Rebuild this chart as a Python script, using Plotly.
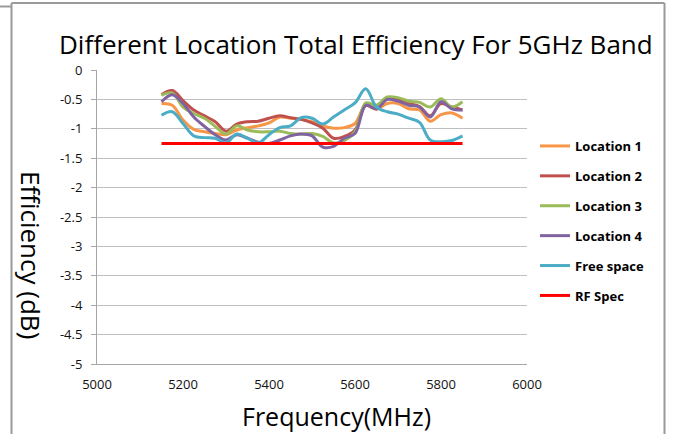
import plotly.graph_objects as go

freq = [5150, 5175, 5200, 5225, 5250, 5275, 5300, 5325, 5350, 5375, 5400, 5425, 5450, 5475,
        5500, 5525, 5550, 5575, 5600, 5625, 5650, 5675, 5700, 5725, 5750, 5775, 5800, 5825, 5850]

loc1 = [-0.57, -0.60, -0.85, -1.01, -1.05, -1.08, -1.10, -1.02, -0.98, -0.95, -0.90, -0.80, -0.82, -0.84,
        -0.88, -0.95, -0.99, -0.98, -0.91, -0.60, -0.67, -0.57, -0.57, -0.66, -0.68, -0.87, -0.76, -0.73, -0.82]
loc2 = [-0.42, -0.35, -0.52, -0.68, -0.78, -0.88, -1.04, -0.92, -0.88, -0.87, -0.82, -0.78, -0.81, -0.84,
        -0.90, -0.99, -1.16, -1.13, -1.02, -0.60, -0.66, -0.49, -0.50, -0.57, -0.62, -0.78, -0.57, -0.63, -0.68]
loc3 = [-0.43, -0.39, -0.63, -0.74, -0.82, -0.96, -1.09, -0.95, -1.02, -1.05, -1.05, -1.04, -1.08, -1.09,
        -1.08, -1.13, -1.24, -1.20, -1.05, -0.56, -0.60, -0.46, -0.47, -0.53, -0.55, -0.63, -0.49, -0.63, -0.54]
loc4 = [-0.54, -0.42, -0.57, -0.80, -0.96, -1.10, -1.19, -1.10, -1.16, -1.23, -1.25, -1.19, -1.12, -1.09,
        -1.12, -1.31, -1.30, -1.16, -1.08, -0.60, -0.66, -0.50, -0.53, -0.60, -0.63, -0.80, -0.54, -0.66, -0.68]
free_space = [-0.77, -0.71, -0.91, -1.12, -1.15, -1.16, -1.24, -1.09, -1.16, -1.24, -1.10, -0.98, -0.95, -0.81,
              -0.82, -0.92, -0.80, -0.68, -0.56, -0.32, -0.63, -0.71, -0.75, -0.82, -0.89, -1.19, -1.22, -1.20, -1.12]
rf_freq = [5150, 5850]
rf_spec = [-1.25, -1.25]

series_names = ["Location 1", "Location 2", "Location 3", "Location 4", "Free space", "RF Spec"]
colors = ["#F79646", "#C0504D", "#9BBB59", "#8064A2", "#4BACC6", "#FF0000"]

x_ticks = [5000, 5200, 5400, 5600, 5800, 6000]
y_ticks = [0, -0.5, -1, -1.5, -2, -2.5, -3, -3.5, -4, -4.5, -5]

W, H = 674, 434
L, R, T, B = 97, 147, 70, 70
PW, PH = W - L - R, H - T - B

def px(x):
    return (x - L) / PW

def py(y):
    return 1 - (y - T) / PH

fig = go.Figure()
data = [(freq, loc1), (freq, loc2), (freq, loc3), (freq, loc4), (freq, free_space), (rf_freq, rf_spec)]
for i, ((xs, ys), name, c) in enumerate(zip(data, series_names, colors)):
    fig.add_trace(go.Scatter(
        x=xs, y=ys, name=name, mode="lines",
        line=dict(color=c, width=3, shape="spline", smoothing=1.0),
        legendgroup=f"g{i}",
    ))

font_family = "Open Sans, Liberation Sans, sans-serif"

fig.update_layout(
    width=W, height=H,
    margin=dict(l=L, r=R, t=T, b=B, autoexpand=False),
    paper_bgcolor="white", plot_bgcolor="white",
    showlegend=True,
    legend=dict(
        x=px(535), y=py(131), xanchor="left", yanchor="top",
        font=dict(family=font_family, size=13, color="#000000", weight="bold"),
        tracegroupgap=10, traceorder="grouped",
        bgcolor="rgba(0,0,0,0)", itemwidth=30,
    ),
    xaxis=dict(
        range=[5000, 6000], tickvals=x_ticks, ticktext=[str(v) for v in x_ticks],
        showgrid=False, zeroline=False, showline=True, linecolor="#A6A6A6", linewidth=1,
        ticks="", tickfont=dict(family=font_family, size=13, color="#111"),
        ticklabelstandoff=8,
    ),
    yaxis=dict(
        range=[-5, 0], tickvals=y_ticks, ticktext=[f"{v:g}" for v in y_ticks],
        showgrid=True, gridcolor="#BFBFBF", gridwidth=1, zeroline=False,
        showline=True, linecolor="#A6A6A6", linewidth=1,
        ticks="outside", ticklen=5, tickcolor="#A6A6A6",
        tickfont=dict(family=font_family, size=13, color="#111"),
        ticklabelstandoff=6,
    ),
    font=dict(family=font_family),
)

fig.add_annotation(text="Different Location Total Efficiency For 5GHz Band",
                   xref="paper", yref="paper", x=px(356), y=py(44),
                   showarrow=False, font=dict(family=font_family, size=26, color="#000"),
                   xanchor="center", yanchor="middle")
fig.add_annotation(text="Frequency(MHz)",
                   xref="paper", yref="paper", x=px(336), y=py(416),
                   showarrow=False, font=dict(family=font_family, size=25, color="#000"),
                   xanchor="center", yanchor="middle")
fig.add_annotation(text="Efficiency (dB)",
                   xref="paper", yref="paper", x=px(31), y=py(255),
                   showarrow=False, textangle=90, font=dict(family=font_family, size=26, color="#000"),
                   xanchor="center", yanchor="middle")

border = dict(color="#9A9A9A", width=2)
fig.add_shape(type="line", xref="paper", yref="paper", x0=px(11.5), x1=px(11.5), y0=py(3), y1=py(440), line=border)
fig.add_shape(type="line", xref="paper", yref="paper", x0=px(11.5), x1=px(664.5), y0=py(3), y1=py(3), line=border)
fig.add_shape(type="line", xref="paper", yref="paper", x0=px(664.5), x1=px(664.5), y0=py(3), y1=py(440), line=border)
fig.add_shape(type="line", xref="paper", yref="paper", x0=px(-5), x1=px(11.5), y0=py(6.5), y1=py(6.5), line=border)

fig.write_html("out.html", config={"displayModeBar": False},
               post_script="document.body.style.margin='0px';")
